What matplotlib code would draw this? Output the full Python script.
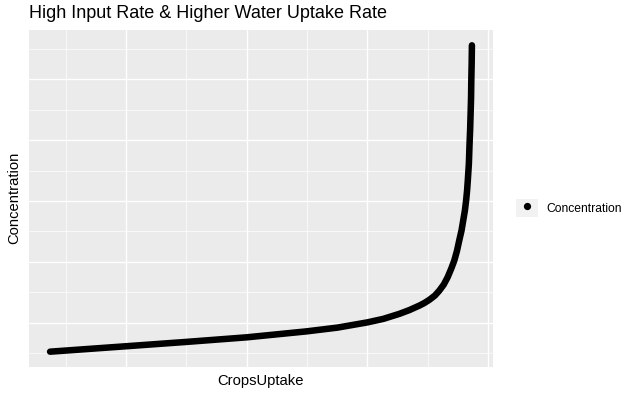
import numpy as np
import matplotlib
matplotlib.use("Agg")
import matplotlib.pyplot as plt
from matplotlib.lines import Line2D
from matplotlib.patches import Patch
from matplotlib.legend_handler import HandlerTuple

plt.rcParams['font.family'] = ['Liberation Sans', 'DejaVu Sans']

# Data (arbitrary units; axis values are not shown)
crops_uptake = [3.72, 9.92, 14.96, 20.00, 24.96, 27.52, 30.00, 31.32, 32.64,
                33.47, 34.30, 34.71, 35.12, 35.58, 35.95, 36.32, 36.64,
                36.94, 37.19, 37.42, 37.60, 37.79, 37.93, 38.07, 38.17,
                38.25, 38.31, 38.40, 38.45, 38.50, 38.55, 38.58, 38.60,
                38.63, 38.65]
concentration = [2.61, 3.05, 3.41, 3.79, 4.28, 4.59, 5.02, 5.31, 5.72,
                 6.03, 6.40, 6.61, 6.87, 7.22, 7.63, 8.13, 8.73,
                 9.44, 10.10, 10.93, 11.75, 12.57, 13.40, 14.22, 15.04,
                 15.86, 16.69, 18.09, 19.57, 20.80, 22.45, 23.52, 24.92,
                 26.32, 27.80]
x_major = [10, 20, 30, 40]
x_minor = [5, 15, 25, 35]
y_major = [5, 10, 15, 20, 25]
y_minor = [2.5, 7.5, 12.5, 17.5, 22.5, 27.5]

title = "High Input Rate & Higher Water Uptake Rate"
xlabel = "CropsUptake"
ylabel = "Concentration"
series_name = "Concentration"

W, H = 637, 396
fig = plt.figure(figsize=(W / 100, H / 100), dpi=100)
fig.patch.set_facecolor('white')
ax = fig.add_axes([29 / W, (H - 367) / H, 464 / W, 337 / H])
ax.set_facecolor('#EBEBEB')

x = np.array(crops_uptake)
y = np.array(concentration)
xr = x.max() - x.min()
yr = y.max() - y.min()
ax.set_xlim(x.min() - 0.05 * xr, x.max() + 0.05 * xr)
ax.set_ylim(y.min() - 0.05 * yr, y.max() + 0.05 * yr)

for v in x_minor:
    ax.axvline(v, color='white', lw=0.5, zorder=0.5)
for v in y_minor:
    ax.axhline(v, color='white', lw=0.5, zorder=0.5)
for v in x_major:
    ax.axvline(v, color='white', lw=1.0, zorder=0.6)
for v in y_major:
    ax.axhline(v, color='white', lw=1.0, zorder=0.6)

ax.plot(x, y, color='black', lw=4.7, solid_capstyle='round',
        solid_joinstyle='round', zorder=3)

ax.set_xticks([])
ax.set_yticks([])
for s in ax.spines.values():
    s.set_visible(False)

fig.text(29 / W, 1 - 14 / H, title, fontsize=13, ha='left', va='center')
fig.text((29 + 464 / 2) / W, 1 - 381 / H, xlabel, fontsize=10.6, ha='center', va='center')
fig.text(14 / W, 1 - 198 / H, ylabel, fontsize=10.6, ha='center', va='center',
         rotation=90)

handle = (Patch(facecolor='#F2F2F2', edgecolor='none'),
          Line2D([], [], marker='o', color='black', ls='', ms=4.2))
leg = fig.legend([handle], [series_name],
                 handler_map={tuple: HandlerTuple(ndivide=1, pad=0)},
                 loc='center left', bbox_to_anchor=(513.6 / W, 1 - 208 / H),
                 frameon=False, fontsize=8.7, handlelength=1.82, handleheight=1.82,
                 handletextpad=0.66, borderpad=0.2, borderaxespad=0)

fig.savefig('out.png', dpi=100, facecolor='white')
